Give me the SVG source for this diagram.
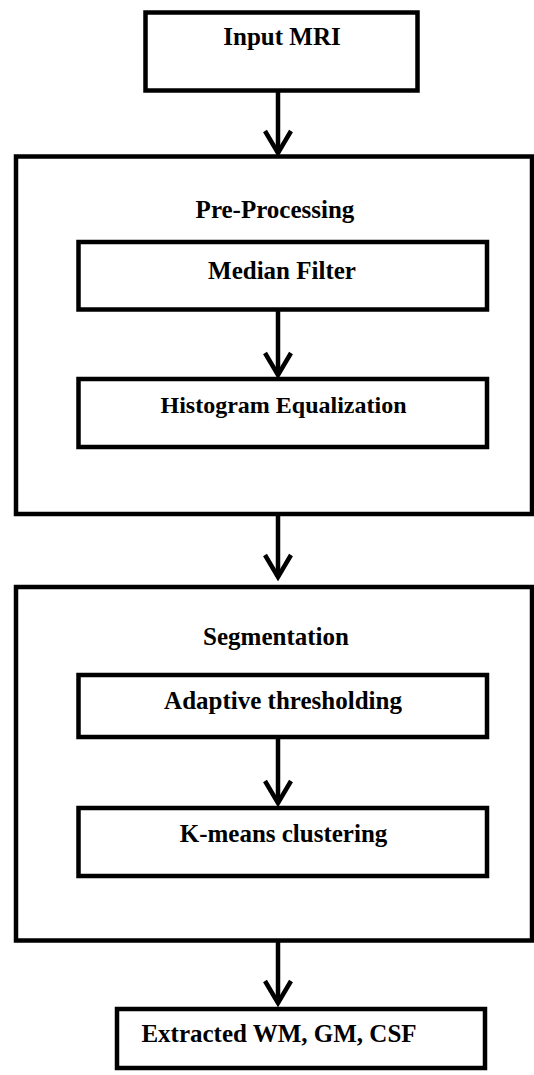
<svg xmlns="http://www.w3.org/2000/svg" width="534" height="1075" viewBox="0 0 534 1075">
  <style>
    .box { fill: #ffffff; stroke: #000000; stroke-width: 4.5; }
    .lbl { font-family: "Liberation Serif", "Times New Roman", serif; font-weight: bold; font-size: 25px; fill: #000000; text-anchor: middle; }
    .conn { stroke: #000000; stroke-width: 4.5; fill: none; }
  </style>
  <defs>
    <marker id="chev" markerUnits="userSpaceOnUse" viewBox="-28 -18 32 36" markerWidth="32" markerHeight="36" refX="0" refY="0" orient="auto">
      <path d="M-22,-13 L0,0 L-22,13" fill="none" stroke="#000000" stroke-width="4.5" stroke-linejoin="miter"/>
    </marker>
  </defs>
  <rect width="534" height="1075" fill="#ffffff"/>

  <g id="node-preprocessing">
    <rect class="box" x="16" y="156.5" width="516" height="357.5"/>
    <text class="lbl" x="275" y="218">Pre-Processing</text>
  </g>
  <g id="node-segmentation">
    <rect class="box" x="16" y="587" width="516" height="353.5"/>
    <text class="lbl" x="276" y="645">Segmentation</text>
  </g>
  <g id="node-input">
    <rect class="box" x="145.5" y="12.5" width="272" height="78"/>
    <text class="lbl" x="282" y="45">Input MRI</text>
  </g>
  <g id="node-median">
    <rect class="box" x="78.5" y="242" width="408.5" height="67.5"/>
    <text class="lbl" x="282" y="279">Median Filter</text>
  </g>
  <g id="node-histogram">
    <rect class="box" x="78.5" y="379" width="408.5" height="68"/>
    <text class="lbl" x="283.5" y="413" style="font-size:24px">Histogram Equalization</text>
  </g>
  <g id="node-adaptive">
    <rect class="box" x="78.5" y="675" width="408.5" height="62"/>
    <text class="lbl" x="283" y="708.5">Adaptive thresholding</text>
  </g>
  <g id="node-kmeans">
    <rect class="box" x="78.5" y="808" width="408.5" height="68"/>
    <text class="lbl" x="283.5" y="842">K-means clustering</text>
  </g>
  <g id="node-extracted">
    <rect class="box" x="117" y="1009" width="368" height="59"/>
    <text class="lbl" x="279" y="1041.5">Extracted WM, GM, CSF</text>
  </g>

  <g id="connectors">
    <line class="conn" x1="278" y1="90.5" x2="278" y2="153" marker-end="url(#chev)"/>
    <line class="conn" x1="278" y1="309.5" x2="278" y2="375" marker-end="url(#chev)"/>
    <line class="conn" x1="278" y1="514" x2="278" y2="577" marker-end="url(#chev)"/>
    <line class="conn" x1="278" y1="737" x2="278" y2="803" marker-end="url(#chev)"/>
    <line class="conn" x1="278" y1="940.5" x2="278" y2="1003" marker-end="url(#chev)"/>
  </g>
</svg>
